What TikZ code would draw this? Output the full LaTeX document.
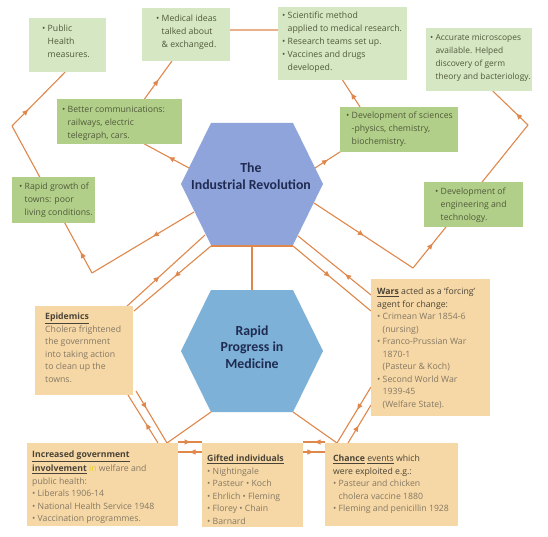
\documentclass[tikz,border=0pt]{standalone}
\usepackage{fontspec}
\setmainfont{Open Sans}
\newfontfamily\hexfont{Carlito}
\usetikzlibrary{arrows.meta,decorations.markings,calc}
\definecolor{lgreen}{HTML}{D6E7C4}
\definecolor{mgreen}{HTML}{B2CF8A}
\definecolor{peach}{HTML}{F6D8A6}
\definecolor{ocol}{HTML}{E0874C}
\definecolor{irblue}{HTML}{8FA4DB}
\definecolor{rpblue}{HTML}{7DB1D8}
\definecolor{gtext}{HTML}{505A3A}
\definecolor{ptext}{HTML}{857864}
\definecolor{phead}{HTML}{4A4337}
\definecolor{htext}{HTML}{1F2B50}
\definecolor{hlyellow}{HTML}{E3CF22}
\newcommand{\hs}{\hphantom{•\ }}
\newcommand{\hd}[1]{\textcolor{phead}{\textbf{\underline{#1}}}}
\tikzset{
  box/.style={draw=none, inner sep=0pt, outer sep=0pt, rectangle},
  lg/.style={box, fill=lgreen},
  mg/.style={box, fill=mgreen},
  pb/.style={box, fill=peach},
  gt/.style={inner sep=0pt, anchor=north west, align=left, text=gtext,
    font=\fontsize{8.7}{13}\selectfont},
  pt/.style={inner sep=0pt, anchor=north west, align=left, text=ptext,
    font=\fontsize{8.7}{12.5}\selectfont},
  ht/.style={inner sep=0pt, align=center, text=htext,
    font=\hexfont\fontsize{13.8}{16.5}\selectfont\bfseries},
  oline/.style={draw=ocol, color=ocol, line width=1.1pt},
  midarrow/.style={postaction={decorate}, decoration={markings,
    mark=at position #1 with {\arrow{Triangle[length=5.5pt,width=5pt]}}}},
}
\begin{document}
\begin{tikzpicture}[x=1pt,y=-1pt]
\useasboundingbox (0,0) rectangle (548,537);
\fill[white] (0,0) rectangle (548,537);

% hexagon centres
\coordinate (irc) at (252,184);
\coordinate (rpc) at (252,351);
\fill[irblue] ($(irc)+(-41,-61)$) -- ($(irc)+(41,-61)$) -- ($(irc)+(71,0)$) -- ($(irc)+(41,61)$) -- ($(irc)+(-41,61)$) -- ($(irc)+(-71,0)$) -- cycle;
\fill[rpblue] ($(rpc)+(-41,-61)$) -- ($(rpc)+(41,-61)$) -- ($(rpc)+(71,0)$) -- ($(rpc)+(41,61)$) -- ($(rpc)+(-41,61)$) -- ($(rpc)+(-71,0)$) -- cycle;
\node[ht] (ir) at (251,176) {The\\Industrial Revolution};
\node[ht] (rp) at (252,347) {Rapid\\Progress in\\Medicine};

% boxes (placed first as coordinates, drawn later)
\path
 (67.5,45)   node[lg, minimum width=77pt,  minimum height=54pt]  (ph) {}
 (186,34.5)  node[lg, minimum width=88pt,  minimum height=53pt]  (mi) {}
 (119.5,121.5) node[mg, minimum width=125pt, minimum height=45pt] (bc) {}
 (342.5,43.5) node[lg, minimum width=129pt, minimum height=73pt] (sm) {}
 (479,59.5)  node[lg, minimum width=106pt, minimum height=63pt]  (am) {}
 (399,129.5) node[mg, minimum width=118pt, minimum height=45pt]  (ds) {}
 (53.5,200)  node[mg, minimum width=83pt,  minimum height=46pt]  (rg) {}
 (473.5,204.5) node[mg, minimum width=99pt, minimum height=45pt] (de) {}
 (84,350.5)  node[pb, minimum width=98pt,  minimum height=89pt]  (ep) {}
 (430.5,347.5) node[pb, minimum width=119pt, minimum height=137pt] (wa) {}
 (102.5,484.5) node[pb, minimum width=151pt, minimum height=83pt] (ig) {}
 (252.5,485) node[pb, minimum width=101pt, minimum height=84pt]  (gi) {}
 (391.5,484.5) node[pb, minimum width=133pt, minimum height=83pt] (ch) {};

% free corner points of the outer loops
\coordinate (L1) at (92,273);
\coordinate (L2) at (12,126);
\coordinate (R1) at (413,268);
\coordinate (R2) at (528,125);
\coordinate (A) at ($(irc)+(-41,62)$);
\coordinate (B) at ($(irc)+(41,62)$);

% ---- upper network ----
\draw[oline, midarrow=0.4] ($(irc)+(-58,28)$) -- (L1);
\draw[oline, midarrow=0.14] (L1) -- (L2);
\draw[oline, midarrow=0.3] (L2) -- ($(ph.south west)!0.47!(ph.south east)$);
\draw[oline, midarrow=0.45] ($(irc)+(-63,-16)$) -- ($(bc.south west)!0.7!(bc.south east)$);
\draw[oline, midarrow=0.5] ($(bc.north west)!0.7!(bc.north east)$) -- ($(mi.south west)!0.34!(mi.south east)$);
\draw[oline] ($(mi.north east)!0.415!(mi.south east)$) -- ($(sm.north west)!0.315!(sm.south west)$);
\draw[oline, midarrow=0.45] ($(irc)+(63,-16)$) -- ($(ds.south west)+(3,-2)$);
\draw[oline, midarrow=0.5] ($(ds.north west)!0.17!(ds.north east)$) -- ($(sm.south west)!0.5!(sm.south east)$);
\draw[oline, midarrow=0.5] ($(irc)+(62,19)$) -- (R1);
\draw[oline, midarrow=0.17] (R1) -- (R2);
\draw[oline, midarrow=0.33] (R2) -- ($(am.south west)!0.63!(am.south east)$);

% ---- lower network ----
\draw[oline] (A) -- (B);
\draw[oline] ($(A)!0.5!(B)$) -- ($(rpc)+(0,-61)$);
\draw[oline] ($(rpc)+(-71,0)$) -- ($(rpc)+(-71,0)$ -| ep.east);
\draw[oline] ($(rpc)+(71,0)$) -- ($(rpc)+(71,0)$ -| wa.west);
\draw[oline] ($(rpc)+(-41,61)$) -- ($(ig.north east)+(-11,0)$);
\draw[oline] ($(rpc)+(0,61)$) -- ($(rpc)+(0,61)$ |- gi.north);
\draw[oline] ($(rpc)+(41,61)$) -- ($(ch.north west)+(12,0)$);
% IR <-> Epidemics
\draw[oline, midarrow=0.42] ($(ep.north east)+(-7,1)$) -- ($(irc)+(-47,51)$);
\draw[oline, midarrow=0.47] (A) -- ($(ep.north east)+(1,5)$);
% Epidemics <-> Government
\draw[oline, midarrow=0.4] ($(ig.north east)+(-20,0)$) -- ($(ep.south east)+(-5,0)$);
\draw[oline, midarrow=0.33] ($(ep.south east)+(3,-4)$) -- ($(ig.north east)+(-11,0)$);
% Government <-> Gifted
\draw[oline, midarrow=0.5] ($(ig.north east)+(0,-1)$) -- ($(gi.north west)+(0,-1)$);
\draw[oline, midarrow=0.5] ($(gi.north west)+(0,9)$) -- ($(ig.north east)+(0,9)$);
% Gifted <-> Chance
\draw[oline, midarrow=0.45] ($(ch.north west)+(0,-1)$) -- ($(gi.north east)+(0,-1)$);
\draw[oline, midarrow=0.45] ($(gi.north east)+(0,9)$) -- ($(ch.north west)+(0,9)$);
% Chance <-> Wars
\draw[oline, midarrow=0.4] ($(wa.south west)+(0,-29)$) -- ($(ch.north west)+(12,0)$);
\draw[oline, midarrow=0.45] ($(ch.north west)+(23,0)$) -- ($(wa.south west)+(0,-11)$);
% IR <-> Wars
\draw[oline, midarrow=0.47] (B) -- ($(wa.north west)+(0,32)$);
\draw[oline, midarrow=0.35] ($(wa.north west)+(0,16)$) -- ($(irc)+(46,52)$);

% ---- boxes drawn over the lines ----
\foreach \b/\c in {ph/lgreen,mi/lgreen,sm/lgreen,am/lgreen,bc/mgreen,ds/mgreen,rg/mgreen,de/mgreen,ep/peach,wa/peach,ig/peach,gi/peach,ch/peach}
  \fill[\c] (\b.north west) rectangle (\b.south east);

% ---- texts ----
\node[gt] (tph) at (42,24.5) {• Public\\\hs Health\\\hs measures.};
\node[gt] (tmi) at (156,14.5) {• Medical ideas\\\hs talked about\\\hs \& exchanged.};
\node[gt] (tbc) at (62,105.5) {• Better communications:\\\hs railways, electric\\\hs telegraph, cars.};
\node[gt] (tsm) at (282,12) {• Scientific method\\\hs applied to medical research.\\• Research teams set up.\\• Vaccines and drugs\\\hs developed.};
\node[gt, font=\fontsize{8.4}{13}\selectfont] (tam) at (430,34) {• Accurate microscopes\\\hs available. Helped\\\hs discovery of germ\\\hs theory and bacteriology.};
\node[gt] (tds) at (346,112) {• Development of sciences\\\hs -physics, chemistry,\\\hs biochemistry.};
\node[gt] (trg) at (19,182.5) {• Rapid growth of\\\hs towns: poor\\\hs living conditions.};
\node[gt] (tde) at (435,187.5) {• Development of\\\hs engineering and\\\hs technology.};

\node[pt] (tep) at (45,313) {\hd{Epidemics}\\Cholera frightened\\the government\\into taking action\\to clean up the\\towns.};
\node[pt] (twa) at (377,288) {\hd{Wars} \textcolor{phead}{acted as a ‘forcing’}\\\textcolor{phead}{agent for change:}\\• Crimean War 1854-6\\\hs (nursing)\\• Franco-Prussian War\\\hs 1870-1\\\hs (Pasteur \& Koch)\\• Second World War\\\hs 1939-45\\\hs (Welfare State).};
\node[pt] (tig) at (32,451) {\hd{Increased government}\\[1.5pt]\hd{involvement} \textcolor{hlyellow}{in} welfare and\\public health:\\• Liberals 1906-14\\• National Health Service 1948\\• Vaccination programmes.};
\node[pt] (tgi) at (207,455) {\hd{Gifted individuals}\\• Nightingale\\• Pasteur • Koch\\• Ehrlich • Fleming\\• Florey • Chain\\• Barnard};
\node[pt] (tch) at (333,455) {\textcolor{phead}{\textbf{\underline{Chance}} \underline{events} which}\\\textcolor{phead}{were exploited e.g.:}\\• Pasteur and chicken\\\hs cholera vaccine 1880\\• Fleming and penicillin 1928};
\end{tikzpicture}
\end{document}
